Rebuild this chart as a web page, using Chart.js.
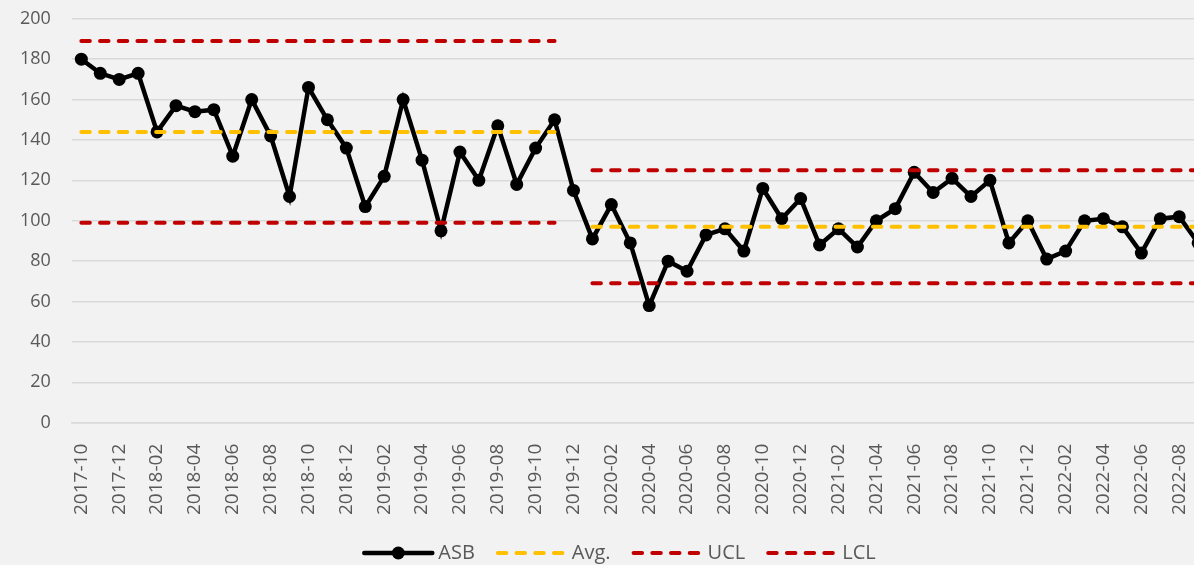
<!DOCTYPE html>
<html>
<head>
<meta charset="utf-8">
<script src="https://cdn.jsdelivr.net/npm/chart.js@4.4.1/dist/chart.umd.min.js"></script>
<style>
  html, body { margin: 0; padding: 0; background: #f2f2f2; overflow: hidden; }
  .wrap { position: relative; width: 1234px; height: 565px; }
</style>
</head>
<body>
<div class="wrap"><canvas id="spc"></canvas></div>
<script>
const months = [
  "2017-10", "2017-11", "2017-12",
  "2018-01", "2018-02", "2018-03", "2018-04", "2018-05", "2018-06",
  "2018-07", "2018-08", "2018-09", "2018-10", "2018-11", "2018-12",
  "2019-01", "2019-02", "2019-03", "2019-04", "2019-05", "2019-06",
  "2019-07", "2019-08", "2019-09", "2019-10", "2019-11", "2019-12",
  "2020-01", "2020-02", "2020-03", "2020-04", "2020-05", "2020-06",
  "2020-07", "2020-08", "2020-09", "2020-10", "2020-11", "2020-12",
  "2021-01", "2021-02", "2021-03", "2021-04", "2021-05", "2021-06",
  "2021-07", "2021-08", "2021-09", "2021-10", "2021-11", "2021-12",
  "2022-01", "2022-02", "2022-03", "2022-04", "2022-05", "2022-06",
  "2022-07", "2022-08", "2022-09"
];

const asb = [
  180, 173, 170,
  173, 144, 157, 154, 155, 132,
  160, 142, 112, 166, 150, 136,
  107, 122, 160, 130, 95, 134,
  120, 147, 118, 136, 150, 115,
  91, 108, 89, 58, 80, 75,
  93, 96, 85, 116, 101, 111,
  88, 96, 87, 100, 106, 124,
  114, 121, 112, 120, 89, 100,
  81, 85, 100, 101, 97, 84,
  101, 102, 89
];

// control limits per phase (null = no line for that month)
const avg = [
  144, 144, 144, 144, 144, 144, 144, 144, 144,
  144, 144, 144, 144, 144, 144, 144, 144, 144,
  144, 144, 144, 144, 144, 144, 144, 144, null,
  97, 97, 97, 97, 97, 97, 97, 97, 97, 97, 97, 97,
  97, 97, 97, 97, 97, 97, 97, 97, 97, 97, 97, 97,
  97, 97, 97, 97, 97, 97, 97, 97, 97
];
const ucl = [
  189, 189, 189, 189, 189, 189, 189, 189, 189,
  189, 189, 189, 189, 189, 189, 189, 189, 189,
  189, 189, 189, 189, 189, 189, 189, 189, null,
  125, 125, 125, 125, 125, 125, 125, 125, 125, 125, 125, 125,
  125, 125, 125, 125, 125, 125, 125, 125, 125, 125, 125, 125,
  125, 125, 125, 125, 125, 125, 125, 125, 125
];
const lcl = [
  99, 99, 99, 99, 99, 99, 99, 99, 99,
  99, 99, 99, 99, 99, 99, 99, 99, 99,
  99, 99, 99, 99, 99, 99, 99, 99, null,
  69, 69, 69, 69, 69, 69, 69, 69, 69, 69, 69, 69,
  69, 69, 69, 69, 69, 69, 69, 69, 69, 69, 69, 69,
  69, 69, 69, 69, 69, 69, 69, 69, 69
];

const FONT = "'Open Sans', sans-serif";
const TEXT = "#595959";
const DASH = [8.5, 10.2];

const dashed = (label, data, color) => ({
  label,
  data,
  borderColor: color,
  backgroundColor: color,
  borderWidth: 4,
  borderDash: DASH,
  borderCapStyle: "round",
  pointRadius: 0,
  pointHoverRadius: 0,
  spanGaps: false,
  tension: 0,
  order: 0,
});

// legend drawn by hand so ASB can show line + marker like Excel
const bottomLegend = {
  id: "bottomLegend",
  afterDraw(chart) {
    const { ctx } = chart;
    const items = chart.data.datasets;
    const y = 553;
    const lineLen = 72;
    const gap = 4;
    const spacing = 21;
    ctx.save();
    ctx.font = "20px " + FONT;
    let total = 0;
    items.forEach((d, i) => {
      total += lineLen + gap + ctx.measureText(d.label).width;
      if (i < items.length - 1) total += spacing;
    });
    let x = 619 - total / 2;
    items.forEach((d) => {
      ctx.strokeStyle = d.borderColor;
      ctx.lineWidth = d.borderWidth;
      ctx.lineCap = "round";
      ctx.setLineDash(d.borderDash || []);
      ctx.beginPath();
      ctx.moveTo(x + 2, y);
      ctx.lineTo(x + lineLen - 2, y);
      ctx.stroke();
      ctx.setLineDash([]);
      if (d.pointRadius) {
        ctx.fillStyle = d.borderColor;
        ctx.beginPath();
        ctx.arc(x + lineLen / 2, y, d.pointRadius, 0, Math.PI * 2);
        ctx.fill();
      }
      x += lineLen + gap;
      ctx.fillStyle = TEXT;
      ctx.textBaseline = "middle";
      ctx.fillText(d.label, x, y);
      x += ctx.measureText(d.label).width + spacing;
    });
    ctx.restore();
  },
};

new Chart(document.getElementById("spc"), {
  type: "line",
  data: {
    labels: months,
    datasets: [
      {
        label: "ASB",
        data: asb,
        borderColor: "#000000",
        backgroundColor: "#000000",
        borderWidth: 4.5,
        pointRadius: 6.5,
        pointHoverRadius: 6.5,
        pointBorderWidth: 0,
        tension: 0,
        order: 1,
      },
      dashed("Avg.", avg, "#FFC000"),
      dashed("UCL", ucl, "#C00000"),
      dashed("LCL", lcl, "#C00000"),
    ],
  },
  options: {
    responsive: true,
    maintainAspectRatio: false,
    animation: false,
    layout: { padding: { left: 12, right: 0, top: 0, bottom: 37 } },
    plugins: {
      legend: { display: false },
      tooltip: { enabled: false },
    },
    scales: {
      x: {
        offset: true,
        grid: { display: false },
        border: { color: "#d9d9d9", width: 1.5 },
        ticks: {
          autoSkip: false,
          minRotation: 90,
          maxRotation: 90,
          padding: 13,
          color: TEXT,
          font: { family: FONT, size: 19 },
          callback: (v, i) => (i % 2 === 0 ? months[i] : ""),
        },
      },
      y: {
        min: 0,
        max: 200,
        grid: {
          color: "#d9d9d9",
          lineWidth: 1.5,
          drawTicks: true,
          tickLength: 13,
          tickColor: "rgba(0,0,0,0)",
        },
        border: { display: false },
        ticks: {
          stepSize: 20,
          padding: 8,
          color: TEXT,
          font: { family: FONT, size: 18 },
        },
      },
    },
  },
  plugins: [bottomLegend],
});
</script>
</body>
</html>
